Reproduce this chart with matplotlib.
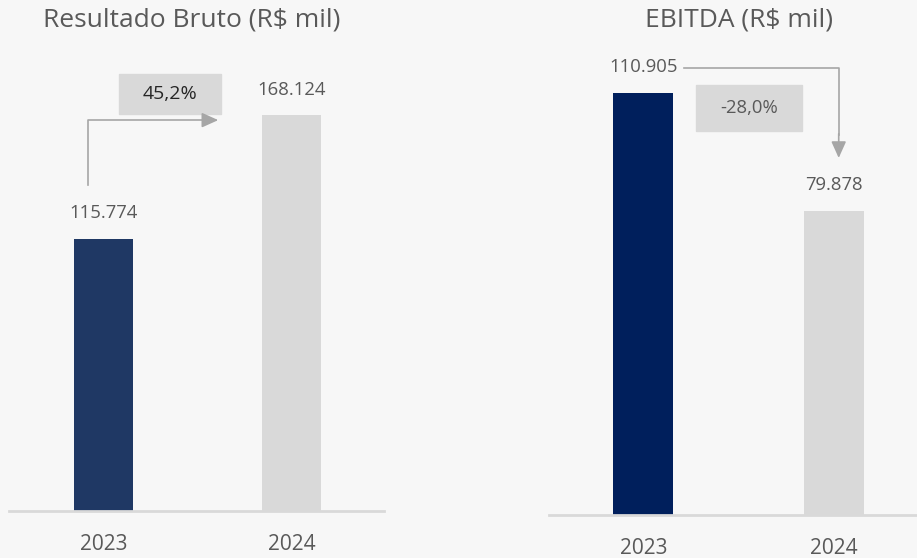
import matplotlib.pyplot as plt
from matplotlib.patches import Rectangle

plt.rcParams['font.family'] = ['Open Sans', 'DejaVu Sans']

anos = ["2023", "2024"]
resultado_bruto = [115.774, 168.124]
ebitda = [110.905, 79.878]
var_bruto = "45,2%"
var_ebitda = "-28,0%"

rotulos_bruto = ["115.774", "168.124"]
rotulos_ebitda = ["110.905", "79.878"]

FUNDO = "#f7f7f7"
CINZA = "#d9d9d9"
TEXTO = "#595959"
SETA = "#a6a6a6"

W, H = 917, 558
fig = plt.figure(figsize=(W / 100, H / 100), dpi=100, facecolor=FUNDO)


def eixo(x0, x1, base):
    # eixos posicionados em pixels
    ax = fig.add_axes([x0 / W, (H - base) / H, (x1 - x0) / W, base / H])
    ax.set_facecolor(FUNDO)
    for s in ["left", "right", "top"]:
        ax.spines[s].set_visible(False)
    ax.spines["bottom"].set_color(CINZA)
    ax.spines["bottom"].set_linewidth(2)
    ax.set_yticks([])
    ax.tick_params(axis="x", length=0, pad=16.5, labelsize=15, labelcolor=TEXTO)
    return ax


# Primeiro gráfico: Resultado Bruto
ax1 = eixo(9, 384, 511)
ax1.bar([0, 1], resultado_bruto, width=0.314, color=["#1f3864", CINZA])
ax1.set_xlim(-0.503, 1.492)
ax1.set_ylim(0, 511 / 2.353)
ax1.set_xticks([0, 1])
ax1.set_xticklabels(anos)
for i, v in enumerate(resultado_bruto):
    ax1.text(i, v + 7, rotulos_bruto[i], ha="center", va="bottom",
             fontsize=13.3, color=TEXTO)
ax1.add_patch(Rectangle((0.082, 168.7), 0.543, 17.0, color=CINZA, zorder=1))
ax1.text(0.3535, 177.2, var_bruto, ha="center", va="center",
         fontsize=14, color="#262626", zorder=3)
ax1.plot([-0.082, -0.082, 0.55], [resultado_bruto[0] + 22.7, resultado_bruto[1] - 2,
                                   resultado_bruto[1] - 2], color=SETA, lw=1.2)
ax1.annotate("", xy=(0.625, resultado_bruto[1] - 2), xytext=(0.54, resultado_bruto[1] - 2),
             arrowprops=dict(arrowstyle="-|>,head_length=1.0,head_width=0.45",
                             color=SETA, lw=1.2))

# Segundo gráfico: EBITDA
ax2 = eixo(549, 917, 515)
ax2.bar([0, 1], ebitda, width=0.316, color=["#001f5c", CINZA])
ax2.set_xlim(-0.495, 1.437)
ax2.set_ylim(0, 515 / 3.806)
ax2.set_xticks([0, 1])
ax2.set_xticklabels(anos)
for i, v in enumerate(ebitda):
    ax2.text(i, v + 4.4, rotulos_ebitda[i], ha="center", va="bottom",
             fontsize=13.3, color=TEXTO)
ax2.add_patch(Rectangle((0.279, 100.9), 0.553, 12.1, color=CINZA, zorder=1))
ax2.text(0.5555, 106.9, var_ebitda, ha="center", va="center",
         fontsize=13.3, color=TEXTO, zorder=3)
ax2.plot([0.216, 1.026, 1.026], [ebitda[0] + 6.5, ebitda[0] + 6.5, ebitda[1] + 20],
         color=SETA, lw=1.2)
ax2.annotate("", xy=(1.026, ebitda[1] + 13.2), xytext=(1.026, ebitda[1] + 21),
             arrowprops=dict(arrowstyle="-|>,head_length=1.0,head_width=0.45",
                             color=SETA, lw=1.2))

fig.text(192 / W, 1 - 20 / H, "Resultado Bruto (R$ mil)", ha="center", va="center",
         fontsize=19, color=TEXTO)
fig.text(739 / W, 1 - 20 / H, "EBITDA (R$ mil)", ha="center", va="center",
         fontsize=19, color=TEXTO)

fig.savefig("out.png", dpi=100, facecolor=FUNDO)
